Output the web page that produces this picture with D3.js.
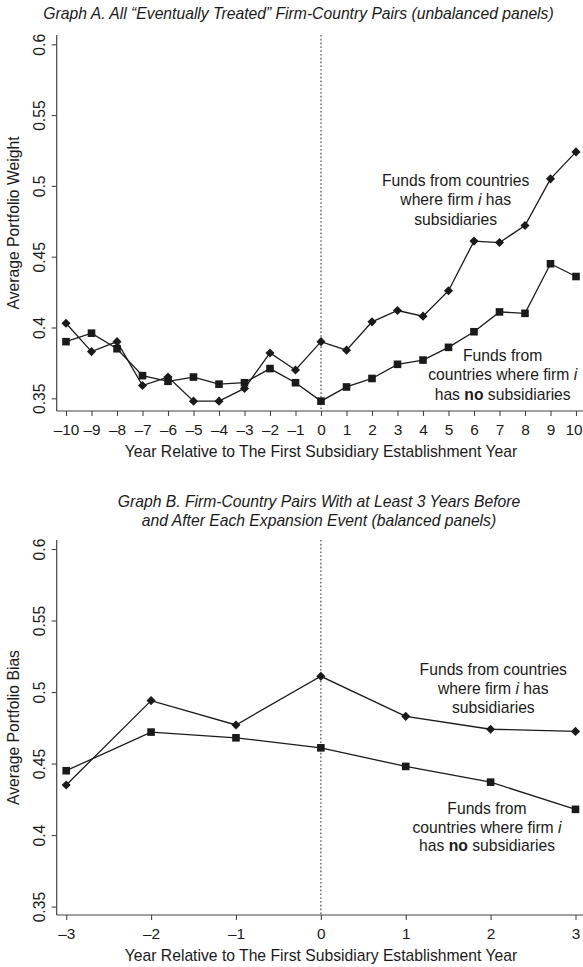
<!DOCTYPE html>
<html>
<head>
<meta charset="utf-8">
<script src="https://cdn.jsdelivr.net/npm/d3@7"></script>
<style>
  body { margin: 0; background: #fff; }
  svg { display: block; font-family: "Liberation Sans", Arial, Helvetica, sans-serif; }
  .tick text { fill: #1a1a1a; }
</style>
</head>
<body>
<svg id="chart" width="583" height="967"></svg>
<script>
// Graph A data
const yearsA = [-10, -9, -8, -7, -6, -5, -4, -3, -2, -1, 0, 1, 2, 3, 4, 5, 6, 7, 8, 9, 10];
const withSubsA = [0.403, 0.383, 0.390, 0.359, 0.365, 0.348, 0.348, 0.357, 0.382, 0.370, 0.390,
                   0.384, 0.404, 0.412, 0.408, 0.426, 0.461, 0.460, 0.472, 0.505, 0.524];
const noSubsA = [0.390, 0.396, 0.385, 0.366, 0.362, 0.365, 0.360, 0.361, 0.371, 0.361, 0.348,
                 0.358, 0.364, 0.374, 0.377, 0.386, 0.397, 0.411, 0.410, 0.445, 0.436];

// Graph B data
const yearsB = [-3, -2, -1, 0, 1, 2, 3];
const withSubsB = [0.435, 0.494, 0.477, 0.511, 0.483, 0.474, 0.4725];
const noSubsB = [0.445, 0.472, 0.468, 0.461, 0.448, 0.437, 0.418];

const yTicks = [0.35, 0.4, 0.45, 0.5, 0.55, 0.6];

const svg = d3.select('#chart');
const ink = '#1a1a1a';
const axisInk = '#444';
const fs = 15.7;
const W = 583;

const fmtYear = d => (d < 0 ? '\u2013' + Math.abs(d) : String(d));
const fmtY = d => String(+d.toFixed(2));

function drawPanel(opts) {
  const { years, withSubs, noSubs, xRange, yRange, axisX, axisTop, axisY, yLabel } = opts;

  const x = d3.scaleLinear().domain(d3.extent(years)).range(xRange);
  const y = d3.scaleLinear().domain([0.35, 0.6]).range(yRange);

  const g = svg.append('g');

  // axis lines
  g.append('line')
    .attr('x1', axisX).attr('x2', axisX)
    .attr('y1', axisTop).attr('y2', axisY)
    .attr('stroke', axisInk).attr('stroke-width', 1.2);
  g.append('line')
    .attr('x1', axisX).attr('x2', W)
    .attr('y1', axisY).attr('y2', axisY)
    .attr('stroke', axisInk).attr('stroke-width', 1.2);

  // y axis
  const yAxis = d3.axisLeft(y).tickValues(yTicks).tickSize(5).tickPadding(0).tickFormat(fmtY);
  const gy = g.append('g').attr('transform', `translate(${axisX},0)`).call(yAxis);
  gy.select('.domain').remove();
  gy.selectAll('.tick line').attr('stroke', axisInk).attr('stroke-width', 1.1);
  gy.selectAll('.tick text')
    .attr('x', null).attr('dy', null)
    .attr('transform', 'translate(-12,0) rotate(-90)')
    .attr('text-anchor', 'middle')
    .style('font-size', fs + 'px');

  // x axis
  const xAxis = d3.axisBottom(x).tickValues(years).tickSize(5).tickPadding(6).tickFormat(fmtYear);
  const gx = g.append('g').attr('transform', `translate(0,${axisY})`).call(xAxis);
  gx.select('.domain').remove();
  gx.selectAll('.tick line').attr('stroke', axisInk).attr('stroke-width', 1.1);
  gx.selectAll('.tick text').style('font-size', '15.4px').attr('dy', '0.85em');
  // keep the right-most label inside the page
  gx.selectAll('.tick text').each(function (d) {
    const t = d3.select(this);
    const half = this.getComputedTextLength() / 2;
    if (x(d) + half > W - 1) t.attr('x', W - 1 - half - x(d));
  });

  // event line at year 0
  g.append('line')
    .attr('x1', x(0)).attr('x2', x(0))
    .attr('y1', axisTop).attr('y2', axisY)
    .attr('stroke', '#555').attr('stroke-width', 1.3)
    .attr('stroke-dasharray', '1.6,2.2');

  const line = d3.line().x(d => x(d[0])).y(d => y(d[1]));
  const noPts = years.map((yr, i) => [yr, noSubs[i]]);
  const withPts = years.map((yr, i) => [yr, withSubs[i]]);

  g.append('path').datum(noPts).attr('d', line)
    .attr('fill', 'none').attr('stroke', ink).attr('stroke-width', 1.3);
  g.append('path').datum(withPts).attr('d', line)
    .attr('fill', 'none').attr('stroke', ink).attr('stroke-width', 1.3);

  g.selectAll('.sq').data(noPts).enter().append('rect')
    .attr('x', d => x(d[0]) - 3.8).attr('y', d => y(d[1]) - 3.8)
    .attr('width', 7.6).attr('height', 7.6)
    .attr('fill', ink);

  const diamond = d3.symbol().type(d3.symbolSquare).size(46);
  g.selectAll('.dm').data(withPts).enter().append('path')
    .attr('d', diamond)
    .attr('transform', d => `translate(${x(d[0])},${y(d[1])}) rotate(45) scale(0.95,0.95)`)
    .attr('fill', ink);

  // axis titles
  g.append('text')
    .attr('transform', `translate(19,${(axisTop + axisY) / 2}) rotate(-90)`)
    .attr('text-anchor', 'middle')
    .style('font-size', fs + 'px').attr('fill', ink)
    .text(yLabel);
  g.append('text')
    .attr('x', 321).attr('y', axisY + 46)
    .attr('text-anchor', 'middle')
    .style('font-size', fs + 'px').attr('fill', ink)
    .text('Year Relative to The First Subsidiary Establishment Year');

  return g;
}

function annotWith(g, cx, y0, step) {
  const t = g.append('text').attr('text-anchor', 'middle')
    .style('font-size', fs + 'px').attr('fill', ink);
  t.append('tspan').attr('x', cx).attr('y', y0).text('Funds from countries');
  const l2 = t.append('tspan').attr('x', cx).attr('y', y0 + step);
  l2.append('tspan').text('where firm ');
  l2.append('tspan').style('font-style', 'italic').text('i');
  l2.append('tspan').text(' has');
  t.append('tspan').attr('x', cx).attr('y', y0 + 2 * step).text('subsidiaries');
}

function annotNo(g, cx, y0, step) {
  const t = g.append('text').attr('text-anchor', 'middle')
    .style('font-size', fs + 'px').attr('fill', ink);
  t.append('tspan').attr('x', cx).attr('y', y0).text('Funds from');
  const l2 = t.append('tspan').attr('x', cx).attr('y', y0 + step);
  l2.append('tspan').text('countries where firm ');
  l2.append('tspan').style('font-style', 'italic').text('i');
  const l3 = t.append('tspan').attr('x', cx).attr('y', y0 + 2 * step);
  l3.append('tspan').text('has ');
  l3.append('tspan').style('font-weight', 'bold').text('no');
  l3.append('tspan').text(' subsidiaries');
}

// Graph A
svg.append('text')
  .attr('x', 298.5).attr('y', 18.5)
  .attr('text-anchor', 'middle')
  .style('font-size', fs + 'px').style('font-style', 'italic').attr('fill', ink)
  .text('Graph A. All \u201CEventually Treated\u201D Firm-Country Pairs (unbalanced panels)');

const gA = drawPanel({
  years: yearsA, withSubs: withSubsA, noSubs: noSubsA,
  xRange: [66, 576], yRange: [398.3, 44.3],
  axisX: 56.7, axisTop: 35, axisY: 411,
  yLabel: 'Average Portfolio Weight'
});
annotWith(gA, 455.7, 185.5, 19.5);
annotNo(gA, 502.7, 360.5, 19.5);

// Graph B
const tB = svg.append('text')
  .attr('text-anchor', 'middle')
  .style('font-size', fs + 'px').style('font-style', 'italic').attr('fill', ink);
tB.append('tspan').attr('x', 319).attr('y', 507)
  .text('Graph B. Firm-Country Pairs With at Least 3 Years Before');
tB.append('tspan').attr('x', 319).attr('y', 525.5)
  .text('and After Each Expansion Event (balanced panels)');

const gB = drawPanel({
  years: yearsB, withSubs: withSubsB, noSubs: noSubsB,
  xRange: [66.2, 575.5], yRange: [906.6, 549],
  axisX: 56.7, axisTop: 540, axisY: 915,
  yLabel: 'Average Portfolio Bias'
});
annotWith(gB, 493.3, 675, 18.8);
annotNo(gB, 487, 813.8, 18.8);
</script>
</body>
</html>
